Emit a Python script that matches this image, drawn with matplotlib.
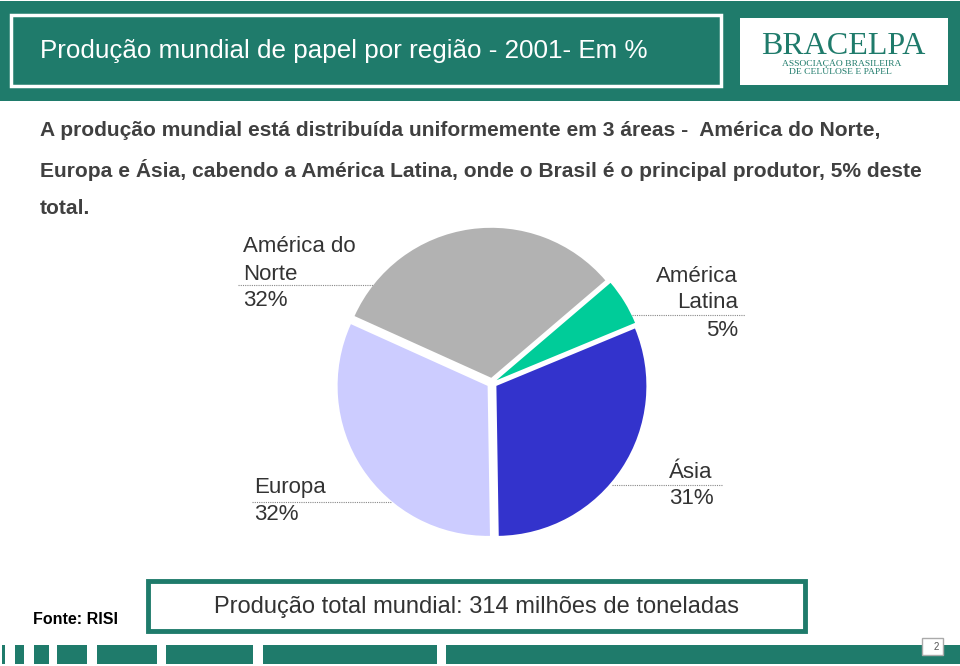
import matplotlib.pyplot as plt
from matplotlib.patches import Rectangle

# ---- data ----
categories = ['Ásia', 'Europa', 'América do Norte', 'América Latina']
shares = [31, 32, 32, 5]
colors = ['#3333CC', '#CCCCFF', '#B2B2B2', '#00CC99']

title = 'Produção mundial de papel por região - 2001- Em %'
body_lines = [
    'A produção mundial está distribuída uniformemente em 3 áreas -  América do Norte,',
    'Europa e Ásia, cabendo a América Latina, onde o Brasil é o principal produtor, 5% deste',
    'total.',
]
total_text = 'Produção total mundial: 314 milhões de toneladas'
source_text = 'Fonte: RISI'
page_no = '2'

TEAL = '#1F7B6B'
TXT = '#333333'
plt.rcParams['font.family'] = ['Liberation Sans', 'DejaVu Sans']

fig = plt.figure(figsize=(9.6, 6.66), dpi=100)
bg = fig.add_axes([0, 0, 1, 1])
bg.set_xlim(0, 960)
bg.set_ylim(666, 0)
bg.axis('off')

# header band
bg.add_patch(Rectangle((0, 1), 960, 100, facecolor=TEAL, edgecolor='none'))
bg.add_patch(Rectangle((11, 15), 710, 71, facecolor=TEAL, edgecolor='white', lw=2.5))
bg.text(40, 51, title, color='white', fontsize=18.7, va='center', ha='left')
# logo
bg.add_patch(Rectangle((740, 18), 208, 67, facecolor='white', edgecolor='none'))
bg.text(843, 46, 'BRACELPA', family='Liberation Serif', color=TEAL, fontsize=23,
        ha='center', va='center')
bg.text(842, 64, 'ASSOCIAÇÃO BRASILEIRA', family='Liberation Serif', color=TEAL,
        fontsize=6.8, ha='center', va='center')
bg.text(840, 72, 'DE CELULOSE E PAPEL', family='Liberation Serif', color=TEAL,
        fontsize=6.8, ha='center', va='center')

# body text
for y, line in zip([130, 170, 209], body_lines):
    bg.text(40, y, line, color='#404040', fontsize=15.1, fontweight='bold',
            va='center', ha='left')

# pie
cx, cy, half = 492, 383, 175
pax = fig.add_axes([(cx - half) / 960, (666 - cy - half) / 666, 2 * half / 960, 2 * half / 666])
pax.pie(shares, colors=colors, startangle=22.5, counterclock=False,
        explode=[0.035] * len(shares), radius=1.0, wedgeprops=dict(linewidth=0))
lim = half / 150
pax.set_xlim(-lim, lim)
pax.set_ylim(-lim, lim)
pax.axis('off')

lab = dict(color=TXT, fontsize=16)
dot = dict(color='#888888', lw=0.8, ls=(0, (1, 1)))

# América do Norte
bg.text(243, 247, 'América do', ha='left', va='center', **lab)
bg.text(243, 274, 'Norte', ha='left', va='center', **lab)
bg.text(243, 301, f'{shares[2]}%', ha='left', va='center', **lab)
bg.plot([238, 378], [285, 285], **dot)
# América Latina
bg.text(738, 276, 'América', ha='right', va='center', **lab)
bg.text(738, 303, 'Latina', ha='right', va='center', **lab)
bg.text(738, 330, f'{shares[3]}%', ha='right', va='center', **lab)
bg.plot([632, 745], [315, 315], **dot)
# Ásia
bg.text(691, 472, 'Ásia', ha='center', va='center', **lab)
bg.text(691, 499, f'{shares[0]}%', ha='center', va='center', **lab)
bg.plot([612, 722], [485, 485], **dot)
# Europa
bg.text(254, 488, 'Europa', ha='left', va='center', **lab)
bg.text(254, 515, f'{shares[1]}%', ha='left', va='center', **lab)
bg.plot([252, 392], [502, 502], **dot)

# bottom box
bg.add_patch(Rectangle((148, 581), 657, 50, facecolor='white', edgecolor=TEAL, lw=3.5))
bg.text(477, 607, total_text, color=TXT, fontsize=17, ha='center', va='center')
bg.text(33, 620, source_text, color='black', fontsize=11.5, fontweight='bold',
        ha='left', va='center')

# footer stripes
segs = [(2, 5), (15, 24), (34, 49), (57, 87), (97, 157), (166, 253), (263, 437), (446, 960)]
for a, b in segs:
    bg.add_patch(Rectangle((a, 645), b - a, 19, facecolor=TEAL, edgecolor='none'))
bg.add_patch(Rectangle((922, 638), 21, 17, facecolor='white', edgecolor='#AAAAAA', lw=1))
bg.text(939, 647, page_no, color='#555555', fontsize=7, ha='right', va='center')

fig.savefig('out.png', dpi=100, facecolor='white')
